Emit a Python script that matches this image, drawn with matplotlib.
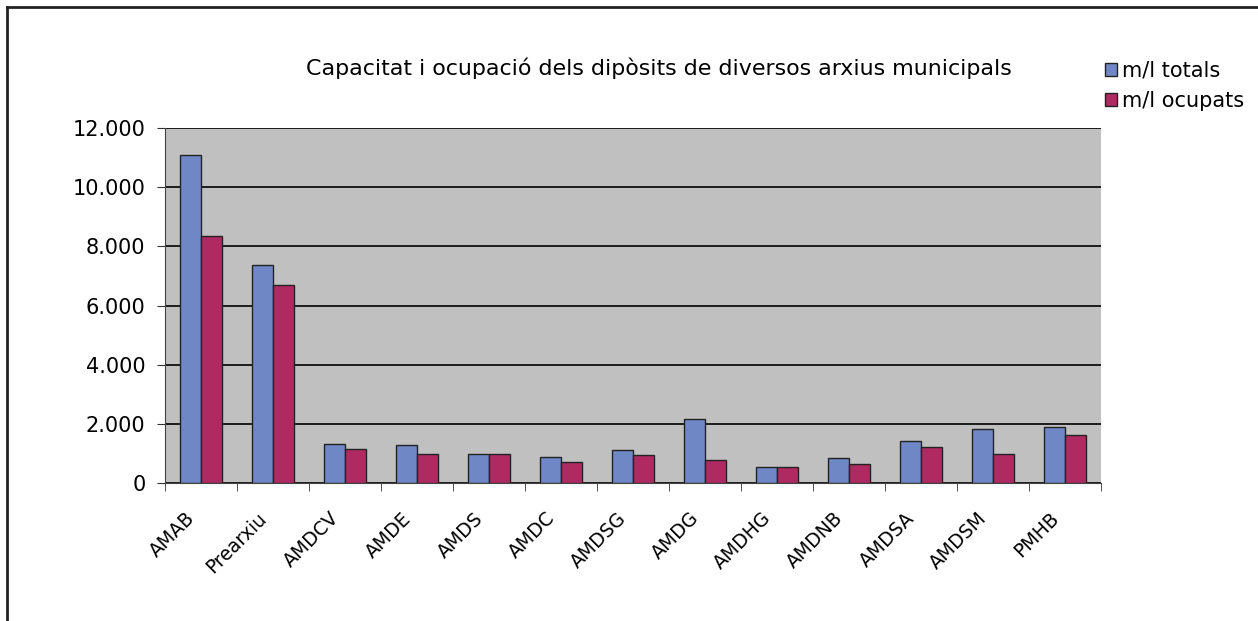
import matplotlib.pyplot as plt
from matplotlib.ticker import FuncFormatter
from matplotlib.transforms import ScaledTranslation
import numpy as np

categories = ['AMAB', 'Prearxiu', 'AMDCV', 'AMDE', 'AMDS', 'AMDC', 'AMDSG',
              'AMDG', 'AMDHG', 'AMDNB', 'AMDSA', 'AMDSM', 'PMHB']
totals = [11100, 7360, 1330, 1290, 980, 890, 1120, 2160, 550, 860, 1420, 1820, 1900]
ocupats = [8350, 6700, 1150, 980, 980, 720, 950, 770, 550, 630, 1210, 980, 1630]

blue = '#6F87C5'
red = '#B02A62'

fig = plt.figure(figsize=(12.58, 6.21), dpi=100)
ax = fig.add_axes([165 / 1258, 1 - 483 / 621, 936 / 1258, 355 / 621])
ax.set_facecolor('#C0C0C0')

xs = np.arange(len(categories))
w = 0.2857
ax.bar(xs - w / 2, totals, w, color=blue, edgecolor='#222222', linewidth=1,
       label='m/l totals', zorder=3)
ax.bar(xs + w / 2, ocupats, w, color=red, edgecolor='#222222', linewidth=1,
       label='m/l ocupats', zorder=3)

ax.set_xlim(-0.5, len(categories) - 0.5)
ax.set_ylim(0, 12000)
ax.set_yticks(range(0, 12001, 2000))
ax.yaxis.set_major_formatter(FuncFormatter(lambda v, p: f'{int(v):,}'.replace(',', '.')))
ax.yaxis.grid(True, color='black', linewidth=1.2, zorder=1)
ax.set_axisbelow(True)

ax.set_xticks(xs)
ax.set_xticklabels(categories, rotation=45, ha='right', rotation_mode='anchor')
ax.set_xticks(np.arange(-0.5, len(categories)), minor=True)
ax.tick_params(axis='x', which='major', length=0, pad=12, labelsize=13.5)
ax.tick_params(axis='x', which='minor', length=6, color='#333333')
ax.tick_params(axis='y', length=6, color='#333333', labelsize=15, pad=8)

shift = ScaledTranslation(-0.16, -0.09, fig.dpi_scale_trans)
for lab in ax.get_xticklabels():
    lab.set_transform(lab.get_transform() + shift)

for s in ['top', 'right']:
    ax.spines[s].set_visible(False)
for s in ['left', 'bottom']:
    ax.spines[s].set_color('#444444')

fig.text(659 / 1258, 1 - 68 / 621, 'Capacitat i ocupació dels dipòsits de diversos arxius municipals',
         ha='center', va='center', fontsize=15.9)

ax.legend(loc='upper left', bbox_to_anchor=(1086 / 1258, 1 - 42 / 621),
          bbox_transform=fig.transFigure, frameon=False, fontsize=15,
          handlelength=0.6, handleheight=0.6, handletextpad=0.25, labelspacing=0.5)

# outer chart frame
fig.add_artist(plt.Line2D([7 / 1258, 7 / 1258], [0, 1 - 7 / 621], color='#222222',
                          linewidth=2, transform=fig.transFigure))
fig.add_artist(plt.Line2D([7 / 1258, 1], [1 - 7 / 621, 1 - 7 / 621], color='#222222',
                          linewidth=2, transform=fig.transFigure))

fig.savefig('out.png', dpi=100)
